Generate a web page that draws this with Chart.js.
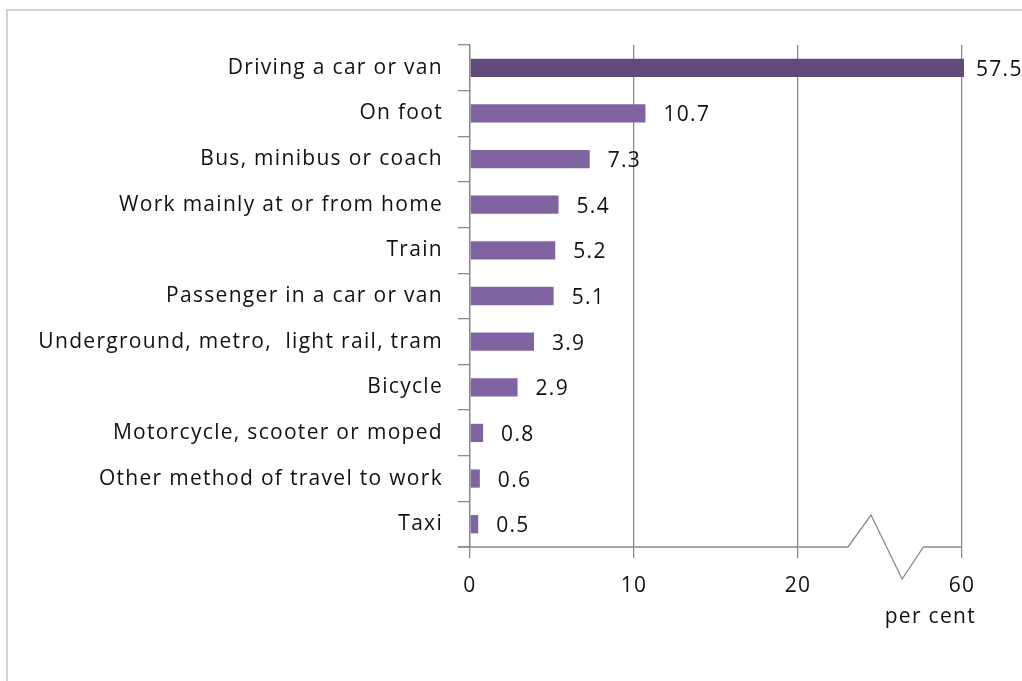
<!DOCTYPE html>
<html>
<head>
<meta charset="utf-8">
<script src="https://cdn.jsdelivr.net/npm/chart.js@4/dist/chart.umd.min.js"></script>
<style>
html,body{margin:0;padding:0;background:#fff;}
#wrap{position:relative;width:1022px;height:681px;overflow:hidden;}
#frame{position:absolute;left:6px;top:9px;width:1100px;height:800px;border-top:2px solid #d4d4d4;border-left:2px solid #d4d4d4;box-sizing:border-box;}
canvas{position:absolute;left:0;top:0;}
</style>
</head>
<body>
<div id="wrap">
<div id="frame"></div>
<canvas id="c" width="1022" height="681"></canvas>
</div>
<script>
const categories = [
  "Driving a car or van",
  "On foot",
  "Bus, minibus or coach",
  "Work mainly at or from home",
  "Train",
  "Passenger in a car or van",
  "Underground, metro,  light rail, tram",
  "Bicycle",
  "Motorcycle, scooter or moped",
  "Other method of travel to work",
  "Taxi"
];
const values = [57.5, 10.7, 7.3, 5.4, 5.2, 5.1, 3.9, 2.9, 0.8, 0.6, 0.5];
const tickValues = [0, 10, 20, 30];
const tickLabels = ["0", "10", "20", "60"];
const axisTitle = "per cent";

const barColors = values.map((v, i) => i === 0 ? "#604a7b" : "#8064a2");
const axisColor = "#8a8a8a";
const textColor = "#111111";
const labelFont = "'Open Sans', 'Lato', sans-serif";
const spacing = "1.3px";

const letterSpacingPlugin = {
  id: "letterSpacing",
  beforeDraw(chart) { chart.ctx.letterSpacing = spacing; }
};

const dataLabels = {
  id: "dataLabels",
  afterDatasetsDraw(chart) {
    const ctx = chart.ctx;
    const meta = chart.getDatasetMeta(0);
    const area = chart.chartArea;
    ctx.save();
    ctx.letterSpacing = spacing;
    ctx.font = "21px " + labelFont;
    ctx.fillStyle = textColor;
    ctx.textAlign = "left";
    ctx.textBaseline = "middle";
    meta.data.forEach((el, i) => {
      const clipped = el.x > area.right;
      const x = (clipped ? area.right + 14 : el.x + 18);
      ctx.fillText(values[i].toFixed(1), x, el.y + 2);
    });
    ctx.restore();
  }
};

const brokenAxis = {
  id: "brokenAxis",
  afterDraw(chart) {
    const ctx = chart.ctx;
    const xs = chart.scales.x;
    const a = chart.chartArea;
    const y = a.bottom;
    const b = [23.05, 24.45, 26.35, 27.65].map(v => xs.getPixelForValue(v));
    ctx.save();
    ctx.strokeStyle = axisColor;
    ctx.lineWidth = 1.3;
    ctx.beginPath();
    ctx.moveTo(a.left - 12, y);
    ctx.lineTo(b[0], y);
    ctx.lineTo(b[1], y - 32);
    ctx.lineTo(b[2], y + 32);
    ctx.lineTo(b[3], y);
    ctx.lineTo(a.right, y);
    ctx.stroke();
    ctx.letterSpacing = spacing;
    ctx.font = "21px " + labelFont;
    ctx.fillStyle = textColor;
    ctx.textAlign = "right";
    ctx.textBaseline = "middle";
    ctx.fillText(axisTitle, a.right + 14, y + 70);
    ctx.restore();
  }
};

new Chart(document.getElementById("c"), {
  type: "bar",
  data: {
    labels: categories,
    datasets: [{
      data: values,
      backgroundColor: barColors,
      borderWidth: 0,
      barPercentage: 0.4,
      categoryPercentage: 1,
      clip: {left: 0, top: 0, right: 2, bottom: 0}
    }]
  },
  options: {
    indexAxis: "y",
    responsive: false,
    animation: false,
    devicePixelRatio: 1,
    layout: {padding: {top: 45, right: 60, bottom: 0, left: 0}},
    plugins: {legend: {display: false}, tooltip: {enabled: false}},
    scales: {
      x: {
        type: "linear",
        min: 0,
        max: 30,
        afterFit(s) { s.height = 134; },
        afterBuildTicks(s) { s.ticks = tickValues.map(v => ({value: v})); },
        ticks: {
          padding: 15,
          color: textColor,
          font: {family: labelFont, size: 21},
          maxRotation: 0,
          callback: (v) => tickLabels[tickValues.indexOf(v)]
        },
        grid: {color: axisColor, lineWidth: 1.3, tickLength: 11, drawTicks: true},
        border: {display: false}
      },
      y: {
        afterFit(s) { s.width = 470; },
        ticks: {
          padding: 15,
          color: textColor,
          font: {family: labelFont, size: 21}
        },
        grid: {offset: true, drawOnChartArea: false, color: axisColor, lineWidth: 1.3, tickLength: 12},
        border: {display: true, color: axisColor, width: 1.3}
      }
    }
  },
  plugins: [letterSpacingPlugin, dataLabels, brokenAxis]
});
</script>
</body>
</html>
